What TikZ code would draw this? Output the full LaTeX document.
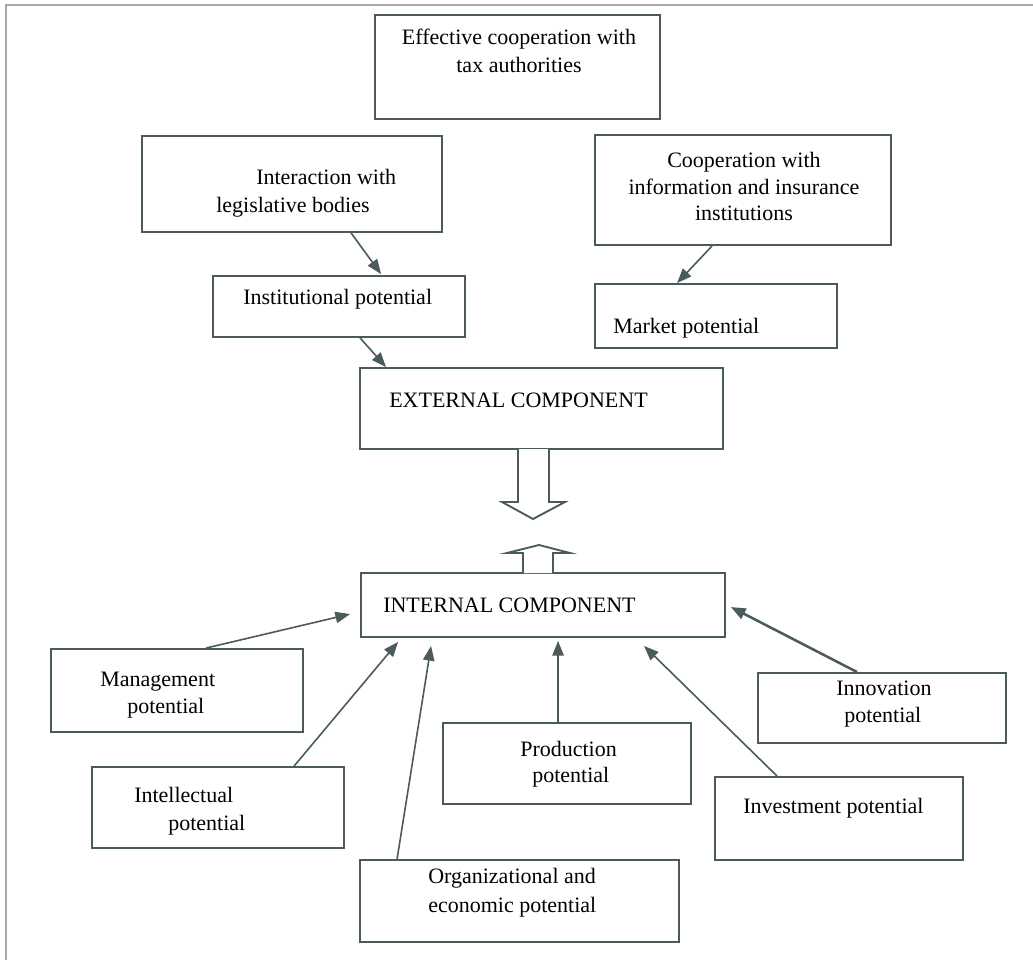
\documentclass[tikz,border=0pt]{standalone}
\usepackage{fontspec}
\setmainfont{Liberation Serif}
\usetikzlibrary{arrows.meta,fit,calc}
\definecolor{boxline}{HTML}{4B5A5B}
\definecolor{pageline}{HTML}{A8A8A8}

\begin{document}
\begin{tikzpicture}[x=0.75pt,y=-0.75pt,
  box/.style={draw=boxline,line width=1.4pt,inner sep=0pt},
  txt/.style={font=\fontsize{16.5}{21}\selectfont,inner sep=0pt,anchor=base west},
  ctxt/.style={txt,anchor=base},
  link/.style={draw=boxline,line width=1.2pt,-{Triangle[length=11pt,width=8.5pt]}},
  biglink/.style={link,line width=1.9pt},
  blockarrow/.style={draw=boxline,line width=1.4pt,fill=white,line join=miter}]
\useasboundingbox (0,0) rectangle (1033,960);
% page frame
\draw[pageline,line width=1.6pt] (6,960) -- (6,5) -- (1033,5);

% boxes
\node[box,fit={(375,15)(660,119)}]  (tax)      {};
\node[box,fit={(142,136)(442,232)}] (inter)    {};
\node[box,fit={(595,135)(891,245)}] (coop)     {};
\node[box,fit={(213,276)(465,337)}] (inst)     {};
\node[box,fit={(595,284)(837,348)}] (market)   {};
\node[box,fit={(360,368)(723,449)}] (ext)      {};
\node[box,fit={(361,573)(725,637)}] (internal) {};
\node[box,fit={(51,649)(303,732)}]  (mgmt)     {};
\node[box,fit={(92,767)(344,848)}]  (intel)    {};
\node[box,fit={(360,860)(679,942)}] (org)      {};
\node[box,fit={(443,723)(691,804)}] (prod)     {};
\node[box,fit={(715,777)(963,860)}] (invest)   {};
\node[box,fit={(758,673)(1006,743)}] (innov)   {};

% texts
\node[ctxt] (tax1) at (519,45) {Effective cooperation with};
\node[ctxt] (tax2) at (519,72) {tax authorities};
\node[txt] (inter1) at (256,184) {Interaction with};
\node[txt] (inter2) at (216,212) {legislative bodies};
\node[ctxt] (coop1) at (744,167) {Cooperation with};
\node[ctxt] (coop2) at (744,194) {information and insurance};
\node[ctxt] (coop3) at (744,220) {institutions};
\node[txt] (inst1) at (243,304) {Institutional potential};
\node[txt] (market1) at (613,333) {Market potential};
\node[txt] (ext1) at (389,407) {EXTERNAL COMPONENT};
\node[txt] (int1) at (383,612) {INTERNAL COMPONENT};
\node[txt] (mgmt1) at (100,686) {Management};
\node[txt] (mgmt2) at (127,713) {potential};
\node[txt] (intel1) at (134,802) {Intellectual};
\node[txt] (intel2) at (168,830) {potential};
\node[txt] (org1) at (428,883) {Organizational and};
\node[txt] (org2) at (428,912) {economic potential};
\node[txt] (prod1) at (520,756) {Production};
\node[txt] (prod2) at (532,782) {potential};
\node[txt] (invest1) at (743,813) {Investment potential};
\node[txt] (innov1) at (836,695) {Innovation};
\node[txt] (innov2) at (844,722) {potential};

% connectors of the external part
\draw[link] ($(inter.south west)+(210,0)$) -- ($(inst.north west)+(169,-1)$);
\draw[link] ($(inst.south west)+(148,0)$) -- ($(ext.north west)+(27,0)$);
\draw[link] ($(coop.south west)+(118,0)$) -- ($(market.north west)+(83,0)$);

% connectors of the internal part
\draw[link] ($(mgmt.north west)+(156,0)$) -- ($(internal.north west)+(-10,42)$);
\draw[link] ($(intel.north west)+(203,0)$) -- ($(internal.south west)+(38,4)$);
\draw[link] ($(org.north west)+(38,0)$) -- ($(internal.south west)+(71,8)$);
\draw[link] ($(prod.north west)+(116,0)$) -- ($(internal.south west)+(198,3)$);
\draw[link] ($(invest.north west)+(63,0)$) -- ($(internal.south west)+(284,8)$);
\draw[biglink] ($(innov.north west)+(100,0)$) -- ($(internal.north east)+(5,35)$);

% hollow block arrows between the two components
\draw[blockarrow] (518,449) -- (518,502) -- (502,502) -- (533,519) -- (565,502) -- (549,502) -- (549,449);
\draw[blockarrow] (523,573) -- (523,553) -- (507,553) -- (539,545) -- (570,553) -- (553,553) -- (553,573);
\end{tikzpicture}
\end{document}
